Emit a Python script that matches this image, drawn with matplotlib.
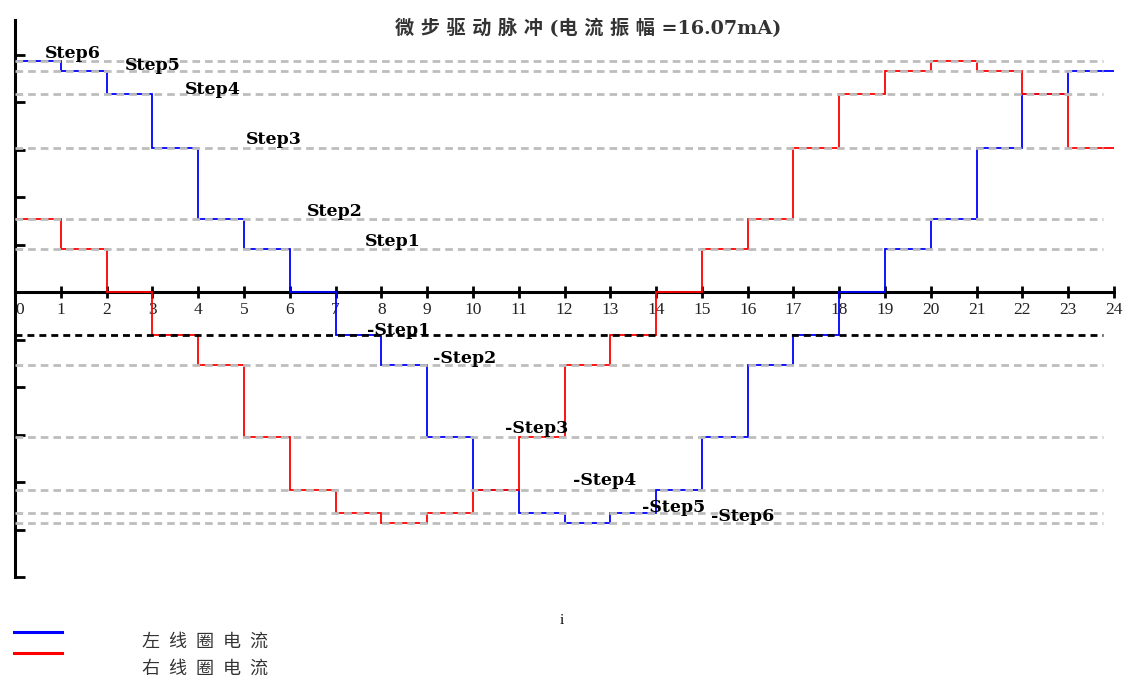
import numpy as np
import matplotlib
matplotlib.use("Agg")
import matplotlib.pyplot as plt
from matplotlib.lines import Line2D

# ---- values (mA) ----
STEP_NAMES = ["Step1", "Step2", "Step3", "Step4", "Step5", "Step6"]
STEP_LEVELS = [3.01, 5.08, 10.06, 13.81, 15.40, 16.07]
EDGES = list(range(25))            # micro-step index 0..24
LEFT_COIL = [16.07, 15.40, 13.81, 10.06, 5.08, 3.01, 0, -3.01, -5.08, -10.06,
             -13.81, -15.40, -16.07, -15.40, -13.81, -10.06, -5.08, -3.01, 0,
             3.01, 5.08, 10.06, 13.81, 15.40]
RIGHT_COIL = [5.08, 3.01, 0, -3.01, -5.08, -10.06, -13.81, -15.40, -16.07,
              -15.40, -13.81, -10.06, -5.08, -3.01, 0, 3.01, 5.08, 10.06,
              13.81, 15.40, 16.07, 15.40, 13.81, 10.06]
TITLE = "微 步 驱 动 脉 冲 (电 流 振 幅 =16.07mA)"
LEGEND = ["左\u2002线\u2002圈\u2002电\u2002流", "右\u2002线\u2002圈\u2002电\u2002流"]

# label anchor points (data coords) for +StepN / -StepN
POS_XY = [(7.64, 3.55), (6.38, 5.64), (5.04, 10.6), (3.71, 14.1), (2.40, 15.8), (0.66, 16.6)]
NEG_XY = [(7.69, -2.65), (9.13, -4.6), (10.7, -9.5), (12.18, -13.1), (13.69, -15.0), (15.2, -15.6)]

plt.rcParams.update({"lines.scale_dashes": False})
CJK = ["Noto Sans CJK SC", "DejaVu Sans"]
W, H = 1132, 681

fig = plt.figure(figsize=(W / 100, H / 100), dpi=100)
ax = fig.add_axes([15 / W, 1 - 577 / H, (1114 - 15) / W, (577 - 20) / H])
ax.set_xlim(0, 24)
ax.set_ylim(-19.84, 18.94)

# coil currents
ax.stairs(LEFT_COIL, EDGES, baseline=None, color="#0000FF", lw=1.3, zorder=3)
ax.stairs(RIGHT_COIL, EDGES, baseline=None, color="#FF0000", lw=1.3, zorder=3)

# reference levels
for i, lev in enumerate(STEP_LEVELS):
    ax.hlines(lev, 0, 23.75, colors="#BDBDBD", lw=2.0, linestyles=(0, (5.5, 3.6)), zorder=4)
    if i == 0:
        ax.hlines(-lev, 0, 23.75, colors="black", lw=2.0, linestyles=(0, (5.0, 3.6)), zorder=4)
    else:
        ax.hlines(-lev, 0, 23.75, colors="#BDBDBD", lw=2.0, linestyles=(0, (5.5, 3.6)), zorder=4)

for name, (x, y) in zip(STEP_NAMES, POS_XY):
    ax.text(x, y, name, family="DejaVu Serif", weight="bold", fontsize=12.5,
            ha="left", va="center", zorder=6)
for name, (x, y) in zip(STEP_NAMES, NEG_XY):
    ax.text(x, y, "-" + name, family="DejaVu Serif", weight="bold", fontsize=12.5,
            ha="left", va="center", zorder=6)

# axes look
ax.spines[["top", "right"]].set_visible(False)
ax.spines["bottom"].set_position(("data", 0))
for s in ("bottom", "left"):
    ax.spines[s].set_linewidth(2.2)
    ax.spines[s].set_zorder(2.5)
ax.set_xticks(EDGES)
ax.set_xticklabels([str(e) for e in EDGES], family="Liberation Serif", fontsize=12.5, color="#222222")
ax.get_xticklabels()[0].set_ha("left")
ax.tick_params(axis="x", direction="inout", length=8, width=2.0, pad=3)
ax.set_yticks(np.arange(-6, 6) * 3.307)
ax.set_yticklabels([])
ax.tick_params(axis="y", direction="in", length=7.5, width=2.0)

# title, x label
fig.text(588 / W, 1 - 28 / H, TITLE, family=["DejaVu Serif", "Noto Sans CJK SC"],
         weight="bold", fontsize=13.8, ha="center", va="center", color="#333333")
fig.text(562 / W, 1 - 620 / H, "i", family="Liberation Serif", fontsize=11,
         ha="center", va="center")

# legend drawn by hand, as in the picture
for yy, col in ((632, "#0000FF"), (653, "#FF0000")):
    fig.add_artist(Line2D([14 / W, 62 / W], [1 - yy / H, 1 - yy / H], color=col, lw=2.2))
for yy, txt in ((642, LEGEND[0]), (669, LEGEND[1])):
    fig.text(142 / W, 1 - yy / H, txt, family=CJK, fontsize=13, ha="left", va="center",
             color="#333333")

fig.savefig("out.png", dpi=100)
